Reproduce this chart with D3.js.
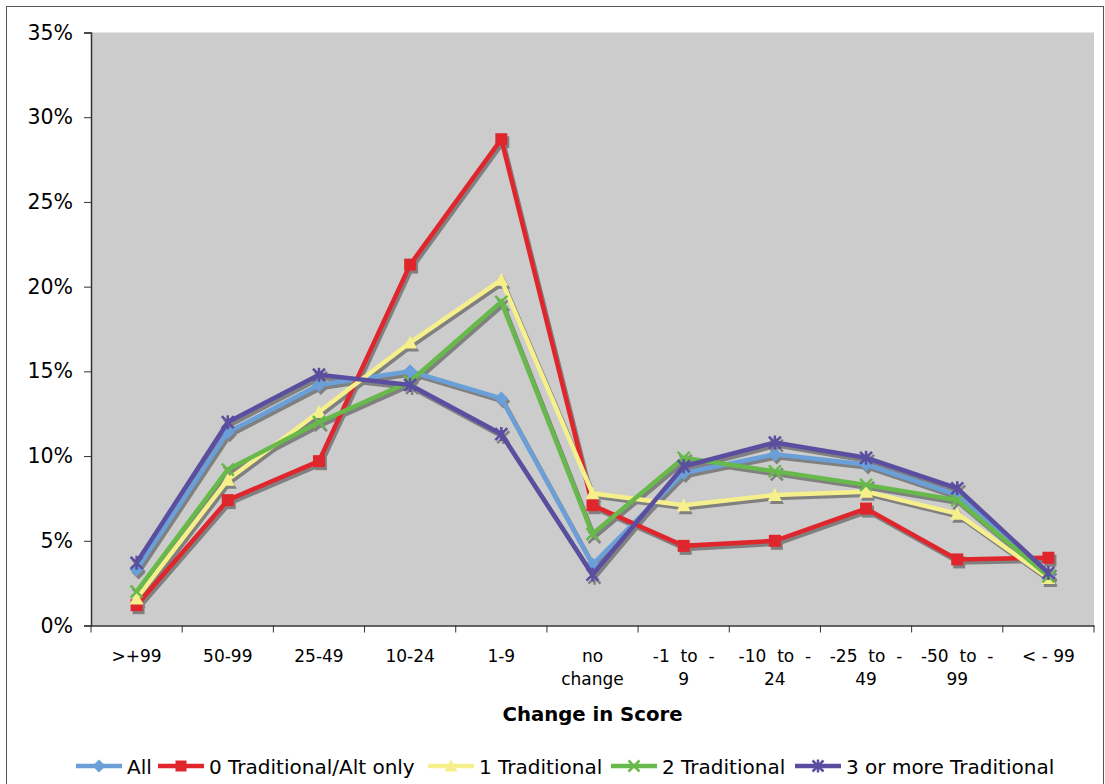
<!DOCTYPE html>
<html><head><meta charset="utf-8">
<script src="https://cdn.jsdelivr.net/npm/d3@7"></script>
<style>body{margin:0;background:#fff}svg{display:block}text{font-family:"DejaVu Sans",Verdana,sans-serif}</style>
</head><body><svg id="c" width="1105" height="784"></svg>
<script>
const categories = [">+99","50-99","25-49","10-24","1-9","no change","-1 to -9","-10 to -24","-25 to -49","-50 to -99","< - 99"];
const labelLines = [[">+99"],["50-99"],["25-49"],["10-24"],["1-9"],["no","change"],["-1  to  -","9"],["-10  to  -","24"],["-25  to  -","49"],["-50  to  -","99"],["< - 99"]];
const seriesNames = ["All","0 Traditional/Alt only","1 Traditional","2 Traditional","3 or more Traditional"];
const allVals   = [3.3, 11.4, 14.2, 15.0, 13.4, 3.6, 9.0, 10.1, 9.5, 7.7, 2.9];
const zeroVals  = [1.2, 7.4, 9.7, 21.3, 28.7, 7.1, 4.7, 5.0, 6.9, 3.9, 4.0];
const oneVals   = [1.6, 8.6, 12.6, 16.7, 20.4, 7.8, 7.1, 7.7, 7.9, 6.6, 2.8];
const twoVals   = [2.0, 9.2, 12.0, 14.4, 19.1, 5.4, 9.9, 9.1, 8.3, 7.4, 2.9];
const threeVals = [3.7, 12.0, 14.8, 14.2, 11.3, 3.0, 9.4, 10.8, 9.9, 8.1, 3.1];
const yTicks = [0,5,10,15,20,25,30,35];
const colors = ["#6b9fd8","#e0262d","#f6f08c","#68b94b","#5a4ea0"];
const markers = ["diamond","square","triangle","x","star"];
const seriesVals = [allVals, zeroVals, oneVals, twoVals, threeVals];

const svg = d3.select("#c");
const L=91, R=1094, T=32.5, B=625.5;
svg.append("rect").attr("x",6.5).attr("y",6.5).attr("width",1097).attr("height",800).attr("fill","#fff").attr("stroke","#555").attr("stroke-width",1);
svg.append("rect").attr("x",L).attr("y",T).attr("width",R-L).attr("height",B-T).attr("fill","#cccccc");

const x = d3.scaleBand().domain(categories).range([L,R]);
const y = d3.scaleLinear().domain([0,35]).range([B,T]);

// y axis
const yAx = svg.append("g").attr("transform",`translate(${L},0)`)
  .call(d3.axisLeft(y).tickValues(yTicks).tickFormat(d=>d+"%").tickSize(7).tickPadding(11));
yAx.select(".domain").attr("stroke","#333").attr("stroke-width",1.5);
yAx.selectAll(".tick line").attr("stroke","#333");
yAx.selectAll("text").attr("font-size",20.5).attr("fill","#000");

// x axis
const xAx = svg.append("g").attr("transform",`translate(0,${B})`)
  .call(d3.axisBottom(x).tickSize(0).tickFormat(""));
xAx.select(".domain").attr("stroke","#333").attr("stroke-width",1.5);
const bounds = [...categories.map(c=>x(c)), R];
svg.selectAll(".xt").data(bounds).enter().append("line")
  .attr("x1",d=>d).attr("x2",d=>d).attr("y1",B).attr("y2",B+7).attr("stroke","#333");
categories.forEach((c,i)=>{
  const t = svg.append("text").attr("x",x(c)+x.bandwidth()/2).attr("y",662).attr("text-anchor","middle")
    .attr("font-size",17).attr("fill","#000").style("white-space","pre");
  labelLines[i].forEach((ln,j)=>{
    t.append("tspan").attr("x",x(c)+x.bandwidth()/2).attr("dy",j?23:0).text(ln);
  });
});
svg.append("text").attr("x",(L+R)/2).attr("y",721).attr("text-anchor","middle")
  .attr("font-size",19.7).attr("font-weight","bold").text("Change in Score");

function markerPath(type,s){
  const h=s/2;
  switch(type){
    case "diamond": return `M0,${-h-1}L${h+1},0L0,${h+1}L${-h-1},0Z`;
    case "square": return `M${-h},${-h}H${h}V${h}H${-h}Z`;
    case "triangle": return `M0,${-h-1}L${h+1},${h}L${-h-1},${h}Z`;
    case "x": return `M${-h},${-h}L${h},${h}M${-h},${h}L${h},${-h}`;
    case "star": return `M${-h},${-h}L${h},${h}M${-h},${h}L${h},${-h}M0,${-h-1}V${h+1}`;
  }
}
const line = d3.line().x((d,i)=>x(categories[i])+x.bandwidth()/2).y(d=>y(d));

// shadows
const sh = svg.append("g").attr("transform","translate(2,3)");
seriesVals.forEach((vals,k)=>{
  sh.append("path").attr("d",line(vals)).attr("fill","none").attr("stroke","#808080").attr("stroke-width",4.5).attr("stroke-linejoin","miter");
  vals.forEach((v,i)=>{
    const m=markers[k], filled = (m!=="x"&&m!=="star");
    sh.append("path").attr("transform",`translate(${x(categories[i])+x.bandwidth()/2},${y(v)})`)
      .attr("d",markerPath(m,12)).attr("fill",filled?"#808080":"none").attr("stroke","#808080").attr("stroke-width",filled?0:2.5);
  });
});
seriesVals.forEach((vals,k)=>{
  const g = svg.append("g");
  g.append("path").attr("d",line(vals)).attr("fill","none").attr("stroke",colors[k]).attr("stroke-width",4.5).attr("stroke-linejoin","miter");
  vals.forEach((v,i)=>{
    const m=markers[k], filled = (m!=="x"&&m!=="star");
    g.append("path").attr("transform",`translate(${x(categories[i])+x.bandwidth()/2},${y(v)})`)
      .attr("d",markerPath(m,12)).attr("fill",filled?colors[k]:"none").attr("stroke",colors[k]).attr("stroke-width",filled?0:2.5);
  });
});

// legend
const legX = [76,158,428,611,795];
seriesNames.forEach((n,k)=>{
  const g = svg.append("g").attr("transform",`translate(${legX[k]},766)`);
  g.append("line").attr("x1",0).attr("x2",46).attr("y1",0).attr("y2",0).attr("stroke",colors[k]).attr("stroke-width",4.5);
  const m=markers[k], filled=(m!=="x"&&m!=="star");
  g.append("path").attr("transform","translate(23,0)").attr("d",markerPath(m,11))
    .attr("fill",filled?colors[k]:"none").attr("stroke",colors[k]).attr("stroke-width",filled?0:2.5);
  g.append("text").attr("x",51).attr("y",7.5).attr("font-size",20).attr("fill","#000").text(n);
});
</script></body></html>
